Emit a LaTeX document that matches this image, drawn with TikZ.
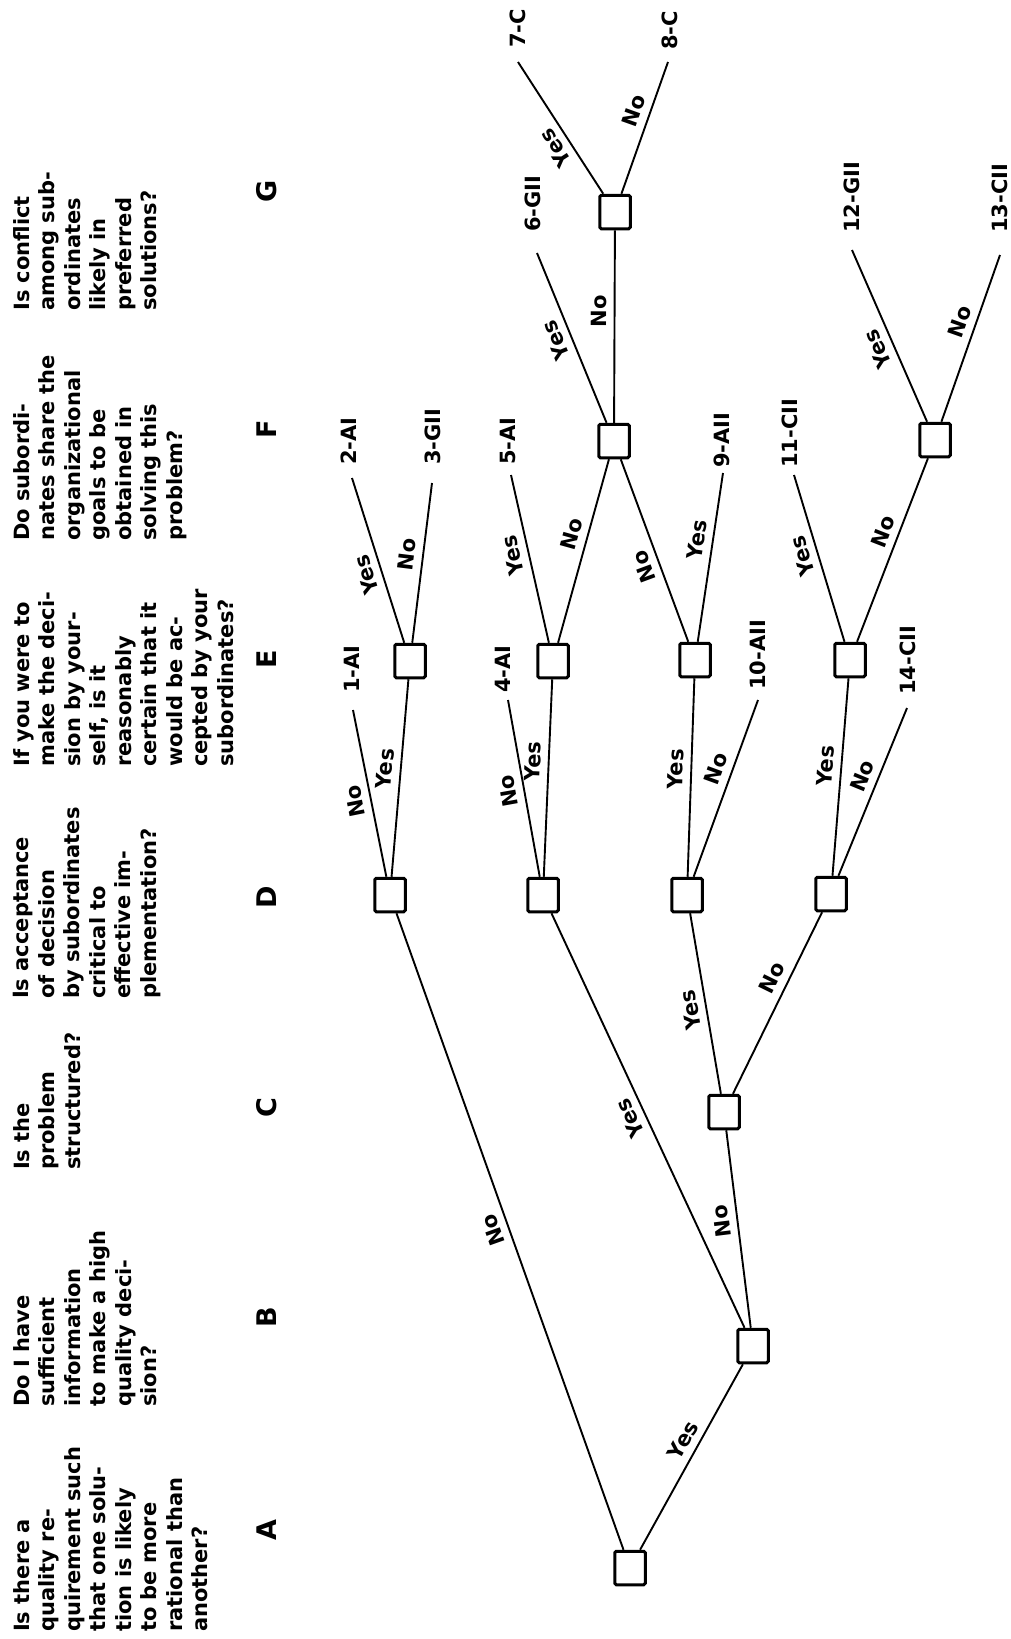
\documentclass[tikz,border=0pt]{standalone}
\usepackage{fontspec}
\newfontfamily\labfont{DejaVu Sans}
\begin{document}
\begin{tikzpicture}[x=1pt,y=-1pt,
  box/.style={draw, line width=3pt, rounded corners=1.5pt, minimum width=30.5pt, minimum height=33.5pt, inner sep=0pt, fill=white},
  conn/.style={line width=1.9pt},
  yn/.style={font=\labfont\bfseries\fontsize{21}{21}\selectfont, sloped, allow upside down, above=6pt, inner sep=1pt},
  leaf/.style={font=\labfont\bfseries\fontsize{21}{21}\selectfont, rotate=90, anchor=west, inner sep=0pt},
  quest/.style={font=\labfont\bfseries\fontsize{21}{25.5}\selectfont, rotate=90, anchor=north west, align=left, inner sep=0pt},
  col/.style={font=\labfont\bfseries\fontsize{27}{27}\selectfont, rotate=90, inner sep=0pt}]
\useasboundingbox[fill=white] (0,0) rectangle (1011,1639);

% questions
\node[quest] (qA) at (13,1632) {Is there a\\quality re-\\quirement such\\that one solu-\\tion is likely\\to be more\\rational than\\another?};
\node[quest] (qB) at (13,1407) {Do I have\\sufficient\\information\\to make a high\\quality deci-\\sion?};
\node[quest] (qC) at (13,1170) {Is the\\problem\\structured?};
\node[quest] (qD) at (13,999) {Is acceptance\\of decision\\by subordinates\\critical to\\effective im-\\plementation?};
\node[quest] (qE) at (13,767) {If you were to\\make the deci-\\sion by your-\\self, is it\\reasonably\\certain that it\\would be ac-\\cepted by your\\subordinates?};
\node[quest] (qF) at (13,541) {Do subordi-\\nates share the\\organizational\\goals to be\\obtained in\\solving this\\problem?};
\node[quest] (qG) at (13,311) {Is conflict\\among sub-\\ordinates\\likely in\\preferred\\solutions?};

% column letters
\node[col] (cA) at (267,1530) {A};
\node[col] (cB) at (267,1317) {B};
\node[col] (cC) at (267,1108) {C};
\node[col] (cD) at (267,897) {D};
\node[col] (cE) at (267,659) {E};
\node[col] (cF) at (267,429) {F};
\node[col] (cG) at (267,191) {G};

% decision boxes
\node[box] (root) at (630,1568) {};
\node[box] (B) at (753,1346) {};
\node[box] (C) at (724,1112) {};
\node[box] (D1) at (390,895) {};
\node[box] (D2) at (543,895) {};
\node[box] (D3) at (687,895) {};
\node[box] (D4) at (831,894) {};
\node[box] (E1) at (410,661) {};
\node[box] (E2) at (553,661) {};
\node[box] (E3) at (695,660) {};
\node[box] (E4) at (850,660) {};
\node[box] (F1) at (614,441) {};
\node[box] (F2) at (935,440) {};
\node[box] (G) at (615,212) {};

% leaf ends
\coordinate (e1) at (353,710);
\coordinate (e2) at (352,478);
\coordinate (e3) at (432,483);
\coordinate (e4) at (508,700);
\coordinate (e5) at (511,475);
\coordinate (e6) at (537,253);
\coordinate (e7) at (518,62);
\coordinate (e8) at (668,62);
\coordinate (e9) at (723,473);
\coordinate (e10) at (758,700);
\coordinate (e11) at (794,475);
\coordinate (e12) at (852,250);
\coordinate (e13) at (1000,255);
\coordinate (e14) at (907,708);

% leaf labels
\node[leaf] (l1) at (352,693) {1-AI};
\node[leaf] (l2) at (349,465) {2-AI};
\node[leaf] (l3) at (433,465) {3-GII};
\node[leaf] (l4) at (503,693) {4-AI};
\node[leaf] (l5) at (508,465) {5-AI};
\node[leaf] (l6) at (533,232) {6-GII};
\node[leaf] (l7) at (518,48) {7-C};
\node[leaf] (l8) at (670,50) {8-C};
\node[leaf] (l9) at (722,468) {9-AII};
\node[leaf] (l10) at (758,690) {10-AII};
\node[leaf] (l11) at (790,468) {11-CII};
\node[leaf] (l12) at (852,233) {12-GII};
\node[leaf] (l13) at (1000,233) {13-CII};
\node[leaf] (l14) at (908,695) {14-CII};

% connectors
\draw[conn] (root) -- node[yn,pos=.51] {No} (D1);
\draw[conn] (root) -- node[yn,pos=.55] {Yes} (B);
\draw[conn] (B) -- node[yn,pos=.52] {Yes} (D2);
\draw[conn] (B) -- node[yn,pos=.55] {No} (C);
\draw[conn] (C) -- node[yn,pos=.48] {Yes} (D3);
\draw[conn] (C) -- node[yn,pos=.6] {No} (D4);
\draw[conn] (D1) -- node[yn,pos=.47] {No} (e1);
\draw[conn] (D1) -- node[yn,pos=.54] {Yes} (E1);
\draw[conn] (D2) -- node[yn,pos=.5] {No} (e4);
\draw[conn] (D2) -- node[yn,pos=.58] {Yes} (E2);
\draw[conn] (D3) -- node[yn,pos=.54] {Yes} (E3);
\draw[conn] (D3) -- node[yn,pos=.58] {No} (e10);
\draw[conn] (D4) -- node[yn,pos=.55] {Yes} (E4);
\draw[conn] (D4) -- node[yn,pos=.56] {No} (e14);
\draw[conn] (E1) -- node[yn,pos=.44] {Yes} (e2);
\draw[conn] (E1) -- node[yn,pos=.54] {No} (e3);
\draw[conn] (E2) -- node[yn,pos=.54] {Yes} (e5);
\draw[conn] (E2) -- node[yn,pos=.57] {No} (F1);
\draw[conn] (E3) -- node[yn,pos=.44] {No} (F1);
\draw[conn] (E3) -- node[yn,pos=.59] {Yes} (e9);
\draw[conn] (E4) -- node[yn,pos=.54] {Yes} (e11);
\draw[conn] (E4) -- node[yn,pos=.57] {No} (F2);
\draw[conn] (F1) -- node[yn,pos=.52] {Yes} (e6);
\draw[conn] (F1) -- node[yn,pos=.58] {No} (G);
\draw[conn] (G) -- node[yn,pos=.41] {Yes} (e7);
\draw[conn] (G) -- node[yn,pos=.59] {No} (e8);
\draw[conn] (F2) -- node[yn,pos=.46] {Yes} (e12);
\draw[conn] (F2) -- node[yn,pos=.57] {No} (e13);
\end{tikzpicture}
\end{document}
